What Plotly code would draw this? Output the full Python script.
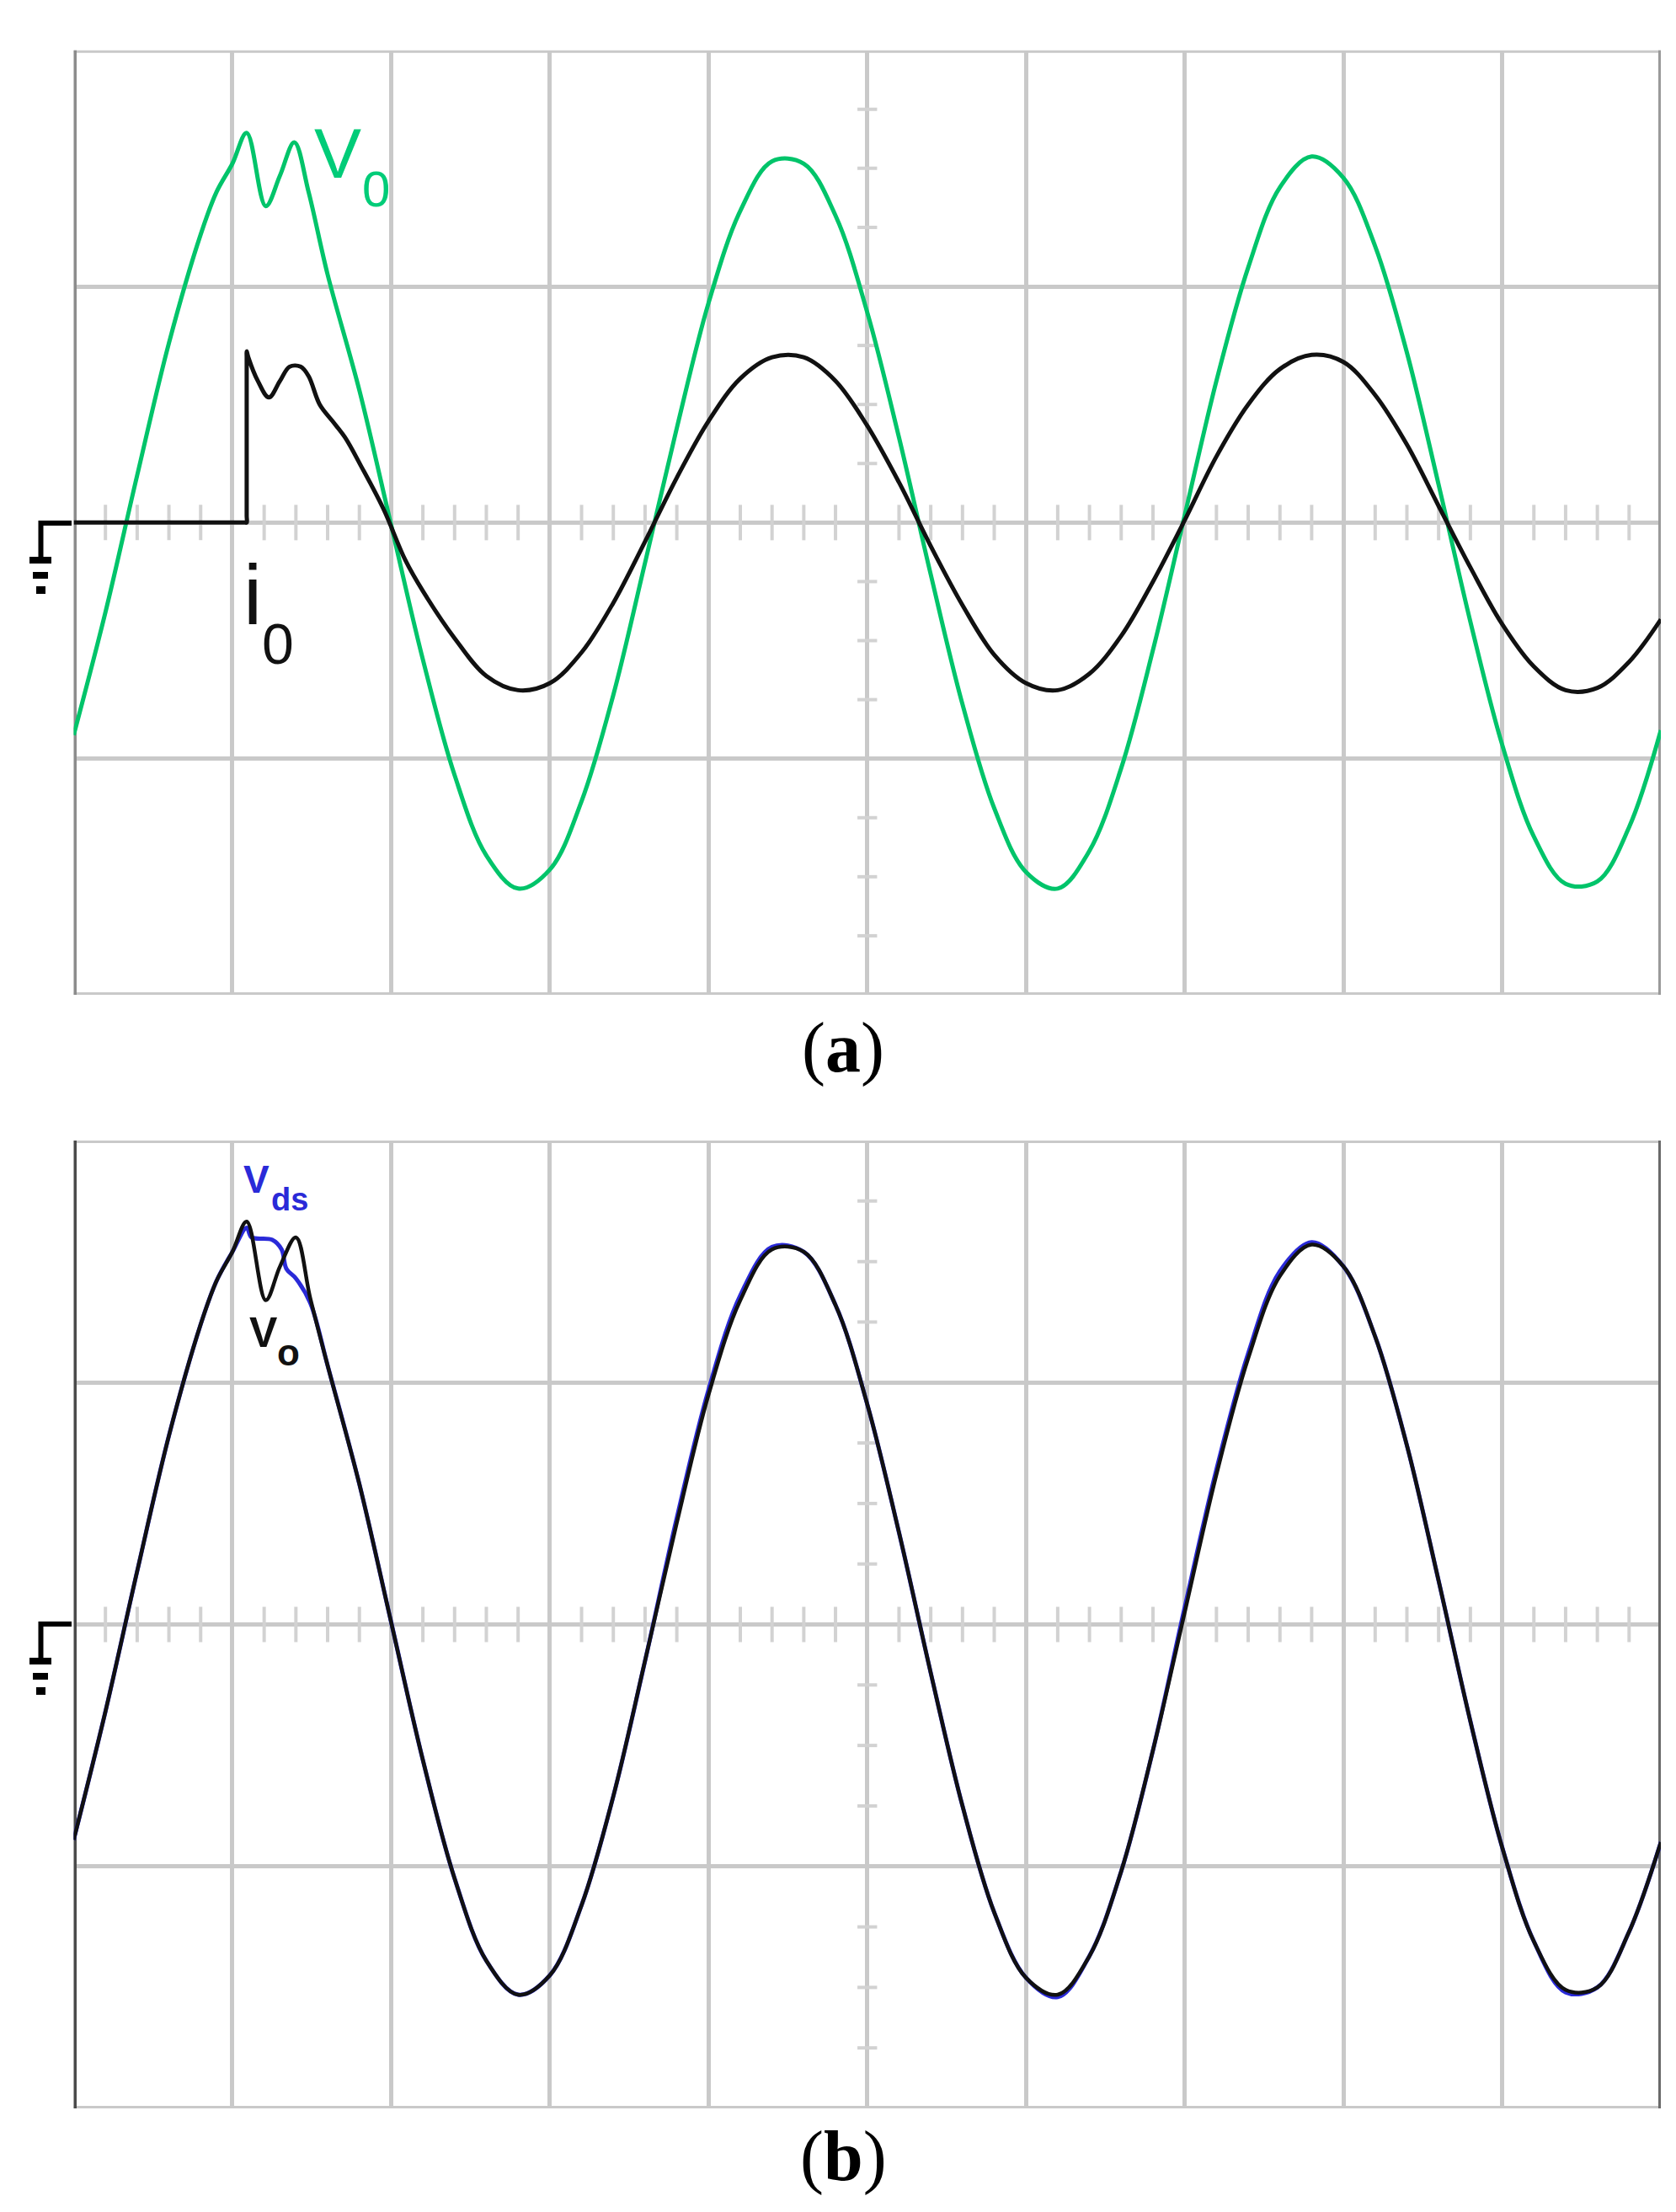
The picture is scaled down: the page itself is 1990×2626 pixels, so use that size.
import plotly.graph_objects as go

W, H = 1990, 2626

# ---------------- data (oscilloscope divisions: x 0..10, y -2..2) ----------------
# Panel (a): output voltage V0 (green)
xa_v0 = [0, 0.2, 0.4, 0.6, 0.8, 0.9, 1.0, 1.09, 1.21, 1.30, 1.39, 1.48, 1.6, 1.8,
         2.0, 2.2, 2.4, 2.6, 2.8, 3.0, 3.2, 3.4, 3.6, 3.8, 4.0, 4.2, 4.4, 4.6, 4.8,
         5.0, 5.2, 5.4, 5.6, 5.8, 6.0, 6.2, 6.4, 6.6, 6.8, 7.0, 7.2, 7.4, 7.6, 7.8,
         8.0, 8.2, 8.4, 8.6, 8.8, 9.0, 9.2, 9.4, 9.6, 9.8, 10.0]
ya_v0 = [-0.90, -0.38, 0.20, 0.76, 1.22, 1.40, 1.52, 1.65, 1.34, 1.47, 1.61, 1.40, 1.05, 0.56,
         -0.01, -0.58, -1.07, -1.41, -1.55, -1.47, -1.18, -0.73, -0.17, 0.40, 0.93, 1.32, 1.53, 1.52, 1.30,
         0.89, 0.36, -0.22, -0.77, -1.21, -1.48, -1.55, -1.39, -1.04, -0.54, 0.03, 0.60, 1.08, 1.42, 1.55,
         1.46, 1.17, 0.72, 0.16, -0.42, -0.94, -1.33, -1.53, -1.52, -1.29, -0.88]

# Panel (a): output current i0 (black) - zero until the load is switched in
xa_i0 = [0, 0.6, 1.08, 1.09, 1.09, 1.09, 1.09, 1.10, 1.16, 1.23, 1.30, 1.36, 1.43, 1.48, 1.55, 1.63, 1.71,
         1.81, 1.95, 2.09, 2.2, 2.4, 2.6, 2.8, 3.0, 3.2, 3.4, 3.6, 3.8, 4.0, 4.2, 4.4, 4.6, 4.8,
         5.0, 5.2, 5.4, 5.6, 5.8, 6.0, 6.2, 6.4, 6.6, 6.8, 7.0, 7.2, 7.4, 7.6, 7.8,
         8.0, 8.2, 8.4, 8.6, 8.8, 9.0, 9.2, 9.4, 9.6, 9.8, 10.0]
ya_i0 = [0, 0, 0, 0, 0.03, 0.70, 0.725, 0.70, 0.60, 0.53, 0.60, 0.66, 0.66, 0.62, 0.50, 0.43, 0.36,
         0.24, 0.06, -0.16, -0.29, -0.49, -0.65, -0.71, -0.68, -0.55, -0.34, -0.08, 0.19, 0.43, 0.61, 0.70, 0.70, 0.60,
         0.41, 0.17, -0.10, -0.35, -0.56, -0.68, -0.71, -0.64, -0.48, -0.25, 0.01, 0.28, 0.50, 0.65, 0.71,
         0.68, 0.54, 0.33, 0.07, -0.19, -0.43, -0.61, -0.71, -0.70, -0.59, -0.41]

# Panel (b): drain-source voltage Vds (blue) and output voltage Vo (black)
xb_vds = [0, 0.2, 0.4, 0.6, 0.8, 0.9, 1.0, 1.09, 1.12, 1.25, 1.31, 1.34, 1.40, 1.49, 1.6, 1.8,
          2.0, 2.2, 2.4, 2.6, 2.8, 3.0, 3.2, 3.4, 3.6, 3.8, 4.0, 4.2, 4.4, 4.6, 4.8,
          5.0, 5.2, 5.4, 5.6, 5.8, 6.0, 6.2, 6.4, 6.6, 6.8, 7.0, 7.2, 7.4, 7.6, 7.8,
          8.0, 8.2, 8.4, 8.6, 8.8, 9.0, 9.2, 9.4, 9.6, 9.8, 10.0]
yb_vds = [-0.89, -0.36, 0.22, 0.78, 1.24, 1.42, 1.54, 1.64, 1.60, 1.59, 1.55, 1.47, 1.43, 1.33, 1.07, 0.58,
          0.01, -0.56, -1.05, -1.39, -1.53, -1.45, -1.16, -0.71, -0.15, 0.44, 0.97, 1.36, 1.56, 1.54, 1.32,
          0.91, 0.38, -0.20, -0.75, -1.19, -1.46, -1.54, -1.37, -1.02, -0.52, 0.07, 0.64, 1.12, 1.46, 1.58,
          1.48, 1.19, 0.74, 0.18, -0.40, -0.92, -1.31, -1.52, -1.50, -1.27, -0.90]

xb_vo = [0, 0.2, 0.4, 0.6, 0.8, 0.9, 1.0, 1.09, 1.21, 1.30, 1.40, 1.49, 1.6, 1.8,
         2.0, 2.2, 2.4, 2.6, 2.8, 3.0, 3.2, 3.4, 3.6, 3.8, 4.0, 4.2, 4.4, 4.6, 4.8,
         5.0, 5.2, 5.4, 5.6, 5.8, 6.0, 6.2, 6.4, 6.6, 6.8, 7.0, 7.2, 7.4, 7.6, 7.8,
         8.0, 8.2, 8.4, 8.6, 8.8, 9.0, 9.2, 9.4, 9.6, 9.8, 10.0]
yb_vo = [-0.89, -0.36, 0.22, 0.78, 1.24, 1.42, 1.54, 1.665, 1.34, 1.48, 1.60, 1.35, 1.07, 0.58,
         0.01, -0.56, -1.05, -1.39, -1.53, -1.45, -1.16, -0.71, -0.15, 0.42, 0.95, 1.34, 1.55, 1.54, 1.32,
         0.91, 0.38, -0.20, -0.75, -1.19, -1.46, -1.53, -1.37, -1.02, -0.52, 0.05, 0.62, 1.10, 1.44, 1.57,
         1.48, 1.19, 0.74, 0.18, -0.40, -0.92, -1.31, -1.51, -1.50, -1.27, -0.90]

x_major = [0, 1, 2, 3, 4, 5, 6, 7, 8, 9, 10]
y_major = [-2, -1, 0, 1, 2]
captions = ["(<b>a</b>)", "(<b>b</b>)"]

# ---------------- styling / layout helpers ----------------
GREEN = "#00c46a"
BLACK = "#111111"
BLUE = "#2a2ad8"
GRID = "#c9c9c9"
TICK = "#d2d2d2"


def px(x):
    return x / W


def py(y):
    return 1 - y / H


X_DOM = [px(79.5), px(1964)]
A_DOM = [py(1173), py(51.7)]
B_DOM = [py(2495), py(1346)]

fig = go.Figure()

line_kw = dict(shape="spline", smoothing=1.0)
fig.add_trace(go.Scatter(x=xa_v0, y=ya_v0, mode="lines", name="V0",
                         line=dict(color=GREEN, width=5, **line_kw), xaxis="x", yaxis="y"))
fig.add_trace(go.Scatter(x=xa_i0, y=ya_i0, mode="lines", name="i0",
                         line=dict(color=BLACK, width=5, **line_kw), xaxis="x", yaxis="y"))
fig.add_trace(go.Scatter(x=xb_vds, y=yb_vds, mode="lines", name="Vds",
                         line=dict(color=BLUE, width=5, **line_kw), xaxis="x2", yaxis="y2"))
fig.add_trace(go.Scatter(x=xb_vo, y=yb_vo, mode="lines", name="Vo",
                         line=dict(color=BLACK, width=4.5, **line_kw), xaxis="x2", yaxis="y2"))


def axis_x(anchor):
    return dict(domain=X_DOM, range=[0, 10], tickvals=x_major, showgrid=True,
                gridcolor=GRID, gridwidth=5, showticklabels=False, ticks="",
                zeroline=False, showline=False, anchor=anchor, fixedrange=True)


def axis_y(dom, anchor):
    return dict(domain=dom, range=[-2, 2], tickvals=y_major, showgrid=True,
                gridcolor=GRID, gridwidth=5, showticklabels=False, ticks="",
                zeroline=False, showline=False, anchor=anchor, fixedrange=True)


shapes = []
for xr, yr, left_col, right_col, tick_h in [("x", "y", "#8c8c8c", "#9a9a9a", 0.075),
                                            ("x2", "y2", "#4a4a4a", "#6a6a6a", 0.073)]:
    # minor ticks on the centre horizontal line
    for k in range(1, 50):
        if k % 5 == 0:
            continue
        xv = k * 0.2
        shapes.append(dict(type="line", xref=xr, yref=yr, x0=xv, x1=xv, y0=-tick_h, y1=tick_h,
                           line=dict(color=TICK, width=4), layer="between"))
    # minor ticks on the centre vertical line
    for k in range(-7, 8):
        if k % 4 == 0:
            continue
        yv = k * 0.25
        shapes.append(dict(type="line", xref=xr, yref=yr, x0=5 - 0.062, x1=5 + 0.062, y0=yv, y1=yv,
                           line=dict(color=TICK, width=4), layer="between"))
    # frame
    shapes.append(dict(type="line", xref=xr, yref=yr, x0=0, x1=10, y0=2, y1=2,
                       line=dict(color=GRID, width=6), layer="between"))
    shapes.append(dict(type="line", xref=xr, yref=yr, x0=0, x1=10, y0=-2, y1=-2,
                       line=dict(color=GRID, width=6), layer="between"))
    shapes.append(dict(type="line", xref=xr, yref=yr, x0=0, x1=0, y0=-2.01, y1=2.01,
                       line=dict(color=left_col, width=7), layer="between"))
    shapes.append(dict(type="line", xref=xr, yref=yr, x0=10, x1=10, y0=-2.01, y1=2.01,
                       line=dict(color=right_col, width=6), layer="between"))

# ground markers (pixel positions converted to paper coords)
for gy in (613, 1920):
    shapes.append(dict(type="path", xref="paper", yref="paper",
                       path=f"M {px(77)},{py(gy)} L {px(40.5)},{py(gy)} L {px(40.5)},{py(gy + 43)}",
                       line=dict(color="black", width=6), layer="above"))
    for (x0, x1, y0, y1) in [(27, 53, gy + 40, gy + 48), (31, 49, gy + 58, gy + 66), (35, 46, gy + 75, gy + 84)]:
        shapes.append(dict(type="rect", xref="paper", yref="paper", x0=px(x0), x1=px(x1),
                           y0=py(y1), y1=py(y0), fillcolor="black", line=dict(width=0), layer="above"))

LABEL_FONT = "Liberation Sans, Arial, sans-serif"
SERIF = "Liberation Serif, Times New Roman, serif"


def ann(text, x, y, size, color, family=LABEL_FONT, xanchor="left"):
    return dict(text=text, x=px(x), y=py(y), xref="paper", yref="paper", showarrow=False,
                xanchor=xanchor, yanchor="middle", borderpad=0,
                font=dict(size=size, color=color, family=family))


annotations = [
    # V0 label (green), main letter + subscript
    ann("V", 364, 174, 84, "#00cc78"),
    ann("0", 421, 216, 60, "#00cc78"),
    # i0 label (black)
    ann("i", 280, 698, 100, "#111111"),
    ann("0", 302, 756, 68, "#111111"),
    # Vds label (blue)
    ann("<b>V</b>", 280, 1392, 46, BLUE),
    ann("<b>ds</b>", 313, 1416, 38, BLUE),
    # Vo label (black)
    ann("<b>V</b>", 287, 1574, 50, "#111111"),
    ann("<b>o</b>", 320, 1597, 44, "#111111"),
    # captions
    ann(captions[0], 993, 1236, 84, "black", SERIF, "center"),
    ann(captions[1], 993, 2552, 84, "black", SERIF, "center"),
]

fig.update_layout(
    width=W, height=H,
    margin=dict(l=0, r=0, t=0, b=0, pad=0),
    paper_bgcolor="white", plot_bgcolor="white",
    showlegend=False,
    xaxis=axis_x("y"), yaxis=axis_y(A_DOM, "x"),
    xaxis2=axis_x("y2"), yaxis2=axis_y(B_DOM, "x2"),
    shapes=shapes, annotations=annotations,
)

fig.write_html("out.html")
